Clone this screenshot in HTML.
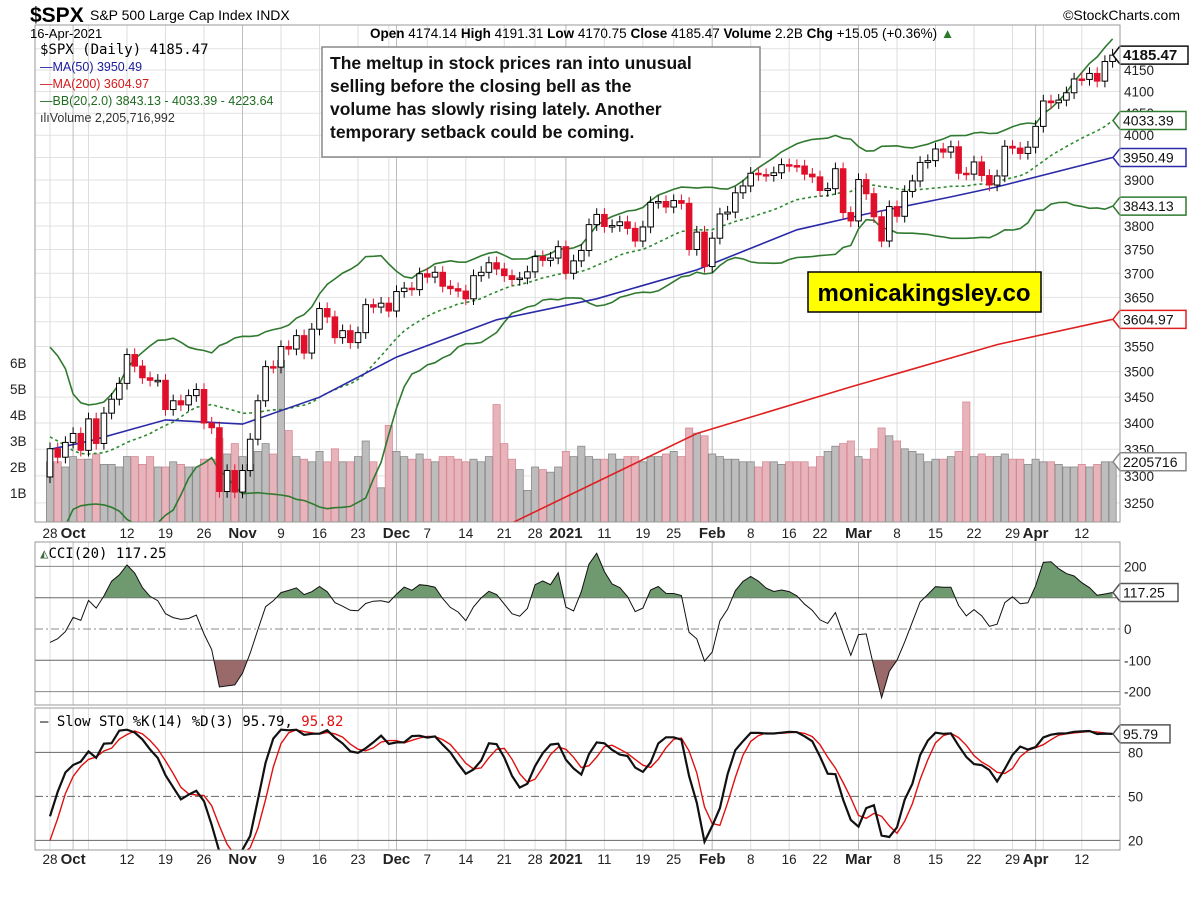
<!DOCTYPE html>
<html><head><meta charset="utf-8"><style>
body{margin:0;background:#fff;}
svg{display:block;font-family:"Liberation Sans",Arial,sans-serif;}
</style></head><body>
<svg id="c" width="1200" height="903" viewBox="0 0 1200 903" xmlns="http://www.w3.org/2000/svg">
<defs>
<clipPath id="mainClip"><rect x="35" y="25" width="1085" height="497"/></clipPath>
<clipPath id="cciClip"><rect x="35" y="542" width="1085" height="163"/></clipPath>
<clipPath id="stoClip"><rect x="35" y="708" width="1085" height="142"/></clipPath>
<clipPath id="cciUp"><rect x="35" y="542" width="1085" height="55.7"/></clipPath>
<clipPath id="cciDn"><rect x="35" y="660.3" width="1085" height="50"/></clipPath>
</defs>
<rect x="0" y="0" width="1200" height="903" fill="#fff"/>
<g id="grid"></g>
<g id="vol" clip-path="url(#mainClip)"></g>
<g id="lines" clip-path="url(#mainClip)"></g>
<g id="candles" clip-path="url(#mainClip)"></g>
<g id="cci"></g>
<g id="sto"></g>
<g id="axes"></g>
<rect x="35" y="25" width="1085" height="497" fill="none" stroke="#999"/>
<rect x="35" y="542" width="1085" height="163" fill="none" stroke="#999"/>
<rect x="35" y="708" width="1085" height="142" fill="none" stroke="#999"/>
<text x="30" y="22" font-size="21" font-weight="bold">$SPX</text>
<text x="90" y="20" font-size="14">S&amp;P 500 Large Cap Index  INDX</text>
<text x="30" y="38" font-size="13">16-Apr-2021</text>
<text x="370" y="38" font-size="13.5"><tspan font-weight="bold">Open</tspan> 4174.14 <tspan font-weight="bold">High</tspan> 4191.31 <tspan font-weight="bold">Low</tspan> 4170.75 <tspan font-weight="bold">Close</tspan> 4185.47 <tspan font-weight="bold">Volume</tspan> 2.2B <tspan font-weight="bold">Chg</tspan> +15.05 (+0.36%) <tspan fill="#2a7a2a">▲</tspan></text>
<text x="1180" y="20" font-size="14" text-anchor="end">©StockCharts.com</text>
<g>
<text x="40" y="54" font-size="14" font-family="DejaVu Sans Mono, monospace">$SPX (Daily) 4185.47</text>
<text x="40" y="71" font-size="12.5" fill="#1b1b9c">—MA(50) 3950.49</text>
<text x="40" y="88" font-size="12.5" fill="#d21b1b">—MA(200) 3604.97</text>
<text x="40" y="105" font-size="12.5" fill="#1f6b1f">—BB(20,2.0) 3843.13 - 4033.39 - 4223.64</text>
<text x="40" y="122" font-size="12.5" fill="#333">ılıVolume 2,205,716,992</text>
</g>
<g>
<rect x="322" y="47" width="438" height="110" fill="#fff" stroke="#888" stroke-width="1.5"/>
<text font-size="17.5" font-weight="bold" fill="#111">
<tspan x="330" y="69">The meltup in stock prices ran into unusual</tspan>
<tspan x="330" y="92">selling before the closing bell as the</tspan>
<tspan x="330" y="115">volume has slowly rising lately. Another</tspan>
<tspan x="330" y="138">temporary setback could be coming.</tspan>
</text>
</g>
<g>
<rect x="808" y="272" width="233" height="40" fill="#ffff00" stroke="#000" stroke-width="1.5"/>
<text x="924" y="301" font-size="24" font-weight="bold" text-anchor="middle">monicakingsley.co</text>
</g>
<text x="40" y="558" font-size="14" font-family="DejaVu Sans Mono, monospace"><tspan fill="#3d6b3d">◭</tspan>CCI(20) 117.25</text>
<text x="40" y="726" font-size="14" font-family="DejaVu Sans Mono, monospace">— Slow STO %K(14) %D(3) 95.79, <tspan fill="#e01010">95.82</tspan></text>
</svg>
<script>
const priorCloses=[3500,3527,3580,3455,3427,3331,3399,3340,3341,3384,3401,3385,3357,3319,3281,3315,3237,3246,3298];
const closes=[3351,3335,3363,3380,3348,3408,3361,3419,3446,3477,3534,3511,3488,3483,3483,3426,3443,3435,3453,3465,3400,3391,3271,3310,3270,
3310,3369,3443,3510,3509,3550,3545,3572,3537,3585,3627,3610,3568,3582,3558,3578,3635,3630,3638,3622,
3662,3669,3666,3699,3692,3702,3673,3668,3663,3647,3695,3702,3722,3709,3695,3687,3690,3703,3735,3727,3732,3756,
3700,3726,3748,3803,3825,3799,3801,3809,3795,3768,3798,3851,3853,3841,3855,3849,3750,3787,3714,
3774,3826,3830,3872,3887,3915,3912,3910,3916,3934,3932,3931,3913,3907,3877,3881,3925,3829,3811,
3901,3870,3820,3768,3842,3821,3875,3898,3939,3943,3969,3962,3974,3915,3913,3940,3910,3889,3909,3975,3971,3959,3973,
4020,4078,4074,4080,4097,4129,4128,4142,4124,4170,4185];
const volumes=[2.2,2.2,2.0,2.4,2.3, 2.3,2.5,2.1,2.1,2.0, 2.4,2.4,2.1,2.4,2.0, 2.0,2.2,2.1,2.0,2.0, 2.3,2.3,3.1,2.5,2.9,
2.4,2.1,2.6,2.9,2.5, 6.1,3.4,2.4,2.3,2.2, 2.6,2.2,2.7,2.2,2.2, 2.4,3.0,2.2,1.2,3.6,
2.6,2.4,2.3,2.5, 2.3,2.2,2.4,2.4,2.3, 2.2,2.3,2.2,2.4,4.4, 2.9,2.3,1.9,1.1, 2.0,1.9,1.8,2.0,
2.6,2.4,2.8,2.4,2.3, 2.3,2.5,2.3,2.4,2.4, 2.2,2.4,2.4,2.5, 2.6,2.4,3.5,3.3,3.2,
2.5,2.4,2.3,2.3,2.2, 2.2,2.0,2.2,2.2,2.1, 2.2,2.2,2.2,2.0, 2.4,2.6,2.8,2.9,3.0,
2.4,2.3,2.7,3.5,3.2, 3.0,2.7,2.6,2.5,2.2, 2.3,2.3,2.4,2.6,4.5, 2.4,2.5,2.4,2.4,2.5, 2.3,2.3,2.1,
2.3, 2.2,2.2,2.1,2.0,2.0, 2.1,2.0,2.1,2.2,2.2];
const ma50Idx=[0,5,15,25,35,45,58,71,84,97,106,117,123,138];
const ma50Val=[3350,3365,3406,3398,3450,3529,3604,3647,3707,3792,3826,3863,3885,3950];
const ma200Idx=[58,84,104,123,138];
const ma200Val=[3200,3380,3470,3554,3605];
const priceTicks=[4200,4150,4100,4050,4000,3950,3900,3850,3800,3750,3700,3650,3600,3550,3500,3450,3400,3350,3300,3250];
const volTicks=[1,2,3,4,5,6];
const cciTicks=[200,100,0,-100,-200];
const stoTicks=[80,50,20];
const dateLabelIdx=[0,3,10,15,20,25,30,35,40,45,49,54,59,63,67,72,77,81,86,91,96,100,105,110,115,120,125,128,134];
const dateLabelTxt=["28","Oct","12","19","26","Nov","9","16","23","Dec","7","14","21","28","2021","11","19","25","Feb","8","16","22","Mar","8","15","22","29","Apr","12"];
const weekIdx=[0,5,10,15,20,25,30,35,40,44,49,54,59,63,67,72,77,81,86,91,96,100,105,110,115,120,125,129,134];
const monthIdx=[3,25,45,67,86,105,128];

const NS="http://www.w3.org/2000/svg";
function mk(tag,attrs,parent){const e=document.createElementNS(NS,tag);for(const k in attrs)e.setAttribute(k,attrs[k]);parent.appendChild(e);return e;}
const X=i=>50+i*7.7;
const Y=p=>70+1771*(Math.log(4150)-Math.log(p));
const VY=v=>519-v*26;
const CY=v=>629-v*0.313;
const SY=v=>723+(100-v)*1.467;
const G=id=>document.getElementById(id);
const n=closes.length;
const all=priorCloses.concat(closes);
const P=priorCloses.length;
const allOpen=all.map((c,i)=>i?all[i-1]:c);
const allHigh=all.map((c,i)=>Math.max(c,allOpen[i])*1.0035);
const allLow=all.map((c,i)=>Math.min(c,allOpen[i])*0.9965);

const grid=G('grid');
priceTicks.forEach(p=>{const l=mk('line',{x1:35,x2:1120,y1:Y(p),y2:Y(p),stroke:'#e2e2e2'},grid);});
weekIdx.forEach(i=>{[[25,522],[542,705],[708,850]].forEach(r=>{const l=mk('line',{x1:X(i),x2:X(i),y1:r[0],y2:r[1],stroke:'#dedede'},grid);});});
monthIdx.forEach(i=>{[[25,522],[542,705],[708,850]].forEach(r=>{const l=mk('line',{x1:X(i),x2:X(i),y1:r[0],y2:r[1],stroke:'#bdbdbd'},grid);});});

const vg=G('vol');
volumes.forEach((v,i)=>{const up=i===0||closes[i]>=closes[i-1];
const r=mk('rect',{x:X(i)-3.6,y:VY(v),width:7.2,height:519-VY(v)+3,fill:up?'#bdbdbd':'#e8b4bc',stroke:up?'#8a8a8a':'#d58a96','stroke-width':0.8},vg);
});

const lg=G('lines');
function poly(pts,attrs,name){const e=mk('polyline',Object.assign({points:pts.map(p=>p[0].toFixed(1)+','+p[1].toFixed(1)).join(' '),fill:'none'},attrs),lg);return e;}
const mid=[],up=[],lo=[];
for(let i=0;i<n;i++){const k=i+P;const w=all.slice(k-19,k+1);const m=w.reduce((a,b)=>a+b,0)/20;const sd=Math.sqrt(w.reduce((a,b)=>a+(b-m)*(b-m),0)/20);
mid.push([X(i),Y(m)]);up.push([X(i),Y(m+2*sd)]);lo.push([X(i),Y(m-2*sd)]);}
poly(up,{stroke:'#2f7a2f','stroke-width':1.6},'bb-upper');
poly(lo,{stroke:'#2f7a2f','stroke-width':1.6},'bb-lower');
poly(mid,{stroke:'#2f8a2f','stroke-width':1.6,'stroke-dasharray':'3,3'},'bb-middle');
poly(ma50Idx.map((i,k)=>[X(i),Y(ma50Val[k])]),{stroke:'#2a2aa8','stroke-width':1.6},'ma50-line');
poly(ma200Idx.map((i,k)=>[X(i),Y(ma200Val[k])]),{stroke:'#e02020','stroke-width':1.6},'ma200-line');

const cg=G('candles');
for(let i=0;i<n;i++){const k=i+P;const o=allOpen[k],c=all[k];const isUp=c>=o;const col=isUp?'#000':'#e0102a';
const w=mk('line',{x1:X(i),x2:X(i),y1:Y(allHigh[k]),y2:Y(allLow[k]),stroke:col,'stroke-width':1},cg);

const t=Math.min(Y(o),Y(c)),h=Math.max(1.5,Math.abs(Y(o)-Y(c)));
const b=mk('rect',{x:X(i)-2.8,y:t,width:5.6,height:h,fill:isUp?'#fff':col,stroke:col,'stroke-width':1},cg);
}

const cci=[];
const tp=all.map((c,i)=>(allHigh[i]+allLow[i]+c)/3);
for(let i=0;i<n;i++){const k=i+P;const w=tp.slice(k-19,k+1);const m=w.reduce((a,b)=>a+b,0)/20;const md=w.reduce((a,b)=>a+Math.abs(b-m),0)/20;cci.push((tp[k]-m)/(0.015*md));}
const cg2=G('cci');
cciTicks.forEach(v=>{const l=mk('line',{x1:35,x2:1120,y1:CY(v),y2:CY(v),stroke:(v===100||v===-100)?'#666':'#888','stroke-dasharray':v===0?'8,3,2,3':'none'},cg2);});
const cpts=cci.map((v,i)=>[X(i),CY(v)]);
const ptsStr=cpts.map(p=>p[0].toFixed(1)+','+p[1].toFixed(1)).join(' ');
const fu=mk('polygon',{points:X(0)+','+CY(100)+' '+ptsStr+' '+X(n-1)+','+CY(100),fill:'#6f9a6f',stroke:'none','clip-path':'url(#cciUp)'},cg2);

const fd=mk('polygon',{points:X(0)+','+CY(-100)+' '+ptsStr+' '+X(n-1)+','+CY(-100),fill:'#9a6a6a',stroke:'none','clip-path':'url(#cciDn)'},cg2);

const cl=mk('polyline',{points:ptsStr,fill:'none',stroke:'#111','stroke-width':1,'clip-path':'url(#cciClip)'},cg2);


const fastK=[];
for(let k=0;k<all.length;k++){const s=Math.max(0,k-13);const hh=Math.max(...allHigh.slice(s,k+1)),ll=Math.min(...allLow.slice(s,k+1));fastK.push(hh===ll?50:(all[k]-ll)/(hh-ll)*100);}
const slowK=fastK.map((v,k)=>k<2?v:(fastK[k]+fastK[k-1]+fastK[k-2])/3);
const slowD=slowK.map((v,k)=>k<2?v:(slowK[k]+slowK[k-1]+slowK[k-2])/3);
const sg=G('sto');
stoTicks.forEach(v=>{const l=mk('line',{x1:35,x2:1120,y1:SY(v),y2:SY(v),stroke:'#666','stroke-dasharray':v===50?'8,3,2,3':'none'},sg);});
const dl=mk('polyline',{points:slowD.slice(P).map((v,i)=>X(i).toFixed(1)+','+SY(v).toFixed(1)).join(' '),fill:'none',stroke:'#e01010','stroke-width':1.4,'clip-path':'url(#stoClip)'},sg);

const kl=mk('polyline',{points:slowK.slice(P).map((v,i)=>X(i).toFixed(1)+','+SY(v).toFixed(1)).join(' '),fill:'none',stroke:'#111','stroke-width':2.2,'clip-path':'url(#stoClip)'},sg);


const ag=G('axes');
priceTicks.forEach(p=>{if(p>4160)return;const t=mk('text',{x:1124,y:Y(p)+5,'font-size':13.5,fill:'#222'},ag);t.textContent=p;});
volTicks.forEach(v=>{const t=mk('text',{x:10,y:VY(v)+5,'font-size':13.5,fill:'#222'},ag);t.textContent=v+'B';});
cciTicks.forEach(v=>{if(v===100)return;const t=mk('text',{x:1124,y:CY(v)+5,'font-size':13.5,fill:'#222'},ag);t.textContent=v;});
stoTicks.forEach(v=>{const t=mk('text',{x:1128,y:SY(v)+5,'font-size':13.5,fill:'#222'},ag);t.textContent=v;});
dateLabelIdx.forEach((i,k)=>{const bold=isNaN(+dateLabelTxt[k])||dateLabelTxt[k]==='2021';
[533,859].forEach(y=>{const t=mk('text',{x:X(i),y:y+5,'font-size':bold?15:13.5,'font-weight':bold?'bold':'normal','text-anchor':'middle',fill:'#222'},ag);t.textContent=dateLabelTxt[k];});});
function tag(y,txt,col,bold,w){const g=mk('g',{},ag);
mk('path',{d:`M1113 ${y} L1120 ${y-9} L${1120+w} ${y-9} L${1120+w} ${y+9} L1120 ${y+9} Z`,fill:'#fff',stroke:col,'stroke-width':1.5},g);
const t=mk('text',{x:1123,y:y+5,'font-size':bold?15:14,'font-weight':bold?'bold':'normal',fill:'#111'},g);t.textContent=txt;}
const last=mid[n-1];
tag(Y(closes[n-1]),'4185.47','#111',true,68);
tag(last[1],'4033.39','#2f7a2f',false,66);
tag(Y(ma50Val[ma50Val.length-1]),'3950.49','#2a2aa8',false,66);
tag(lo[n-1][1],'3843.13','#2f7a2f',false,66);
tag(Y(ma200Val[ma200Val.length-1]),'3604.97','#e02020',false,66);
tag(VY(volumes[n-1]),'2205716','#888',false,66);
tag(CY(cci[n-1]),'117.25','#555',false,58);
tag(SY(slowK[all.length-1]),'95.79','#555',false,50);
</script>
</body></html>
